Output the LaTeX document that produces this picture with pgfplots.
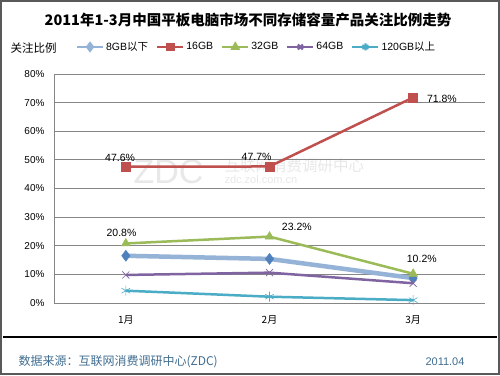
\documentclass[border=0pt]{standalone}
\usepackage{pgfplots}
\pgfplotsset{compat=1.18}
\usepackage{fontspec}
\setmainfont{Liberation Sans}
\newfontfamily\cjk{Noto Sans CJK SC}
\usetikzlibrary{plotmarks}
\definecolor{c1l}{HTML}{95B3D7}
\definecolor{c1}{HTML}{4F81BD}
\definecolor{c2}{HTML}{C0504D}
\definecolor{c3}{HTML}{9BBB59}
\definecolor{c4}{HTML}{8064A2}
\definecolor{c5}{HTML}{4BACC6}
\definecolor{gridc}{HTML}{868686}
\definecolor{foot}{RGB}{65,110,145}
\begin{document}
\begin{tikzpicture}[x=1pt,y=1pt]
\fill[white] (0pt,0pt) rectangle (500pt,375pt);
\draw[line width=2pt, gray!70!black] (1pt,1pt) rectangle (499pt,374pt);
\draw[black, line width=1.5pt] (3,38) -- (497,38);
% watermark
\node[font=\fontsize{34}{34}\selectfont, text=gray!18, anchor=west] at (130pt,203pt) {ZDC};
\node[font=\cjk\fontsize{15.5}{15}\selectfont, text=gray!18, anchor=west] at (221pt,209pt) {互联网消费调研中心};
\node[font=\fontsize{11}{11}\selectfont, text=gray!18, anchor=west] at (221pt,195pt) {zdc.zol.com.cn};
% title
\node[font=\cjk\bfseries\fontsize{14.5}{16}\selectfont] at (248pt,355pt) {2011年1-3月中国平板电脑市场不同存储容量产品关注比例走势};
\node[font=\cjk\fontsize{11.5}{13}\selectfont, anchor=west] at (7pt,327pt) {关注比例};
\begin{axis}[
  at={(54pt,72pt)}, anchor=south west,
  width=431pt, height=229pt, scale only axis,
  xmin=-0.5, xmax=2.5, ymin=0, ymax=80,
  xtick={0,1,2}, xticklabels={1{\cjk 月},2{\cjk 月},3{\cjk 月}},
  ytick={0,10,...,80},
  yticklabel={\pgfmathprintnumber{\tick}\%},
  /pgf/number format/assume math mode=true,
  tick label style={font=\fontsize{10}{12}\selectfont},
  x tick label style={font=\cjk\fontsize{10}{12}\selectfont, yshift=-9pt},
  y tick label style={xshift=-6pt},
  major tick length=0pt,
  axis x line=bottom, axis y line=left,
  axis line style={gridc, -},
  ymajorgrids, grid style={gridc, line width=0.8pt},
  legend style={at={(0.47,1.118)}, anchor=center, draw=none, fill=none,
    font=\fontsize{10.5}{12}\selectfont, legend columns=5,
    /tikz/every even column/.append style={column sep=6pt}},
  legend image code/.code={\draw[line width=2.2pt, mark repeat=2,mark phase=2, mark options={scale=0.7}] plot coordinates {(0pt,0pt) (13pt,0pt) (26pt,0pt)};},
  clip=false,
]
\addplot[c1l, line width=4.5pt, mark=diamond*, mark size=5.5pt, mark options={fill=c1, draw=c1, line width=0.5pt}]
  coordinates {(0,16.5) (1,15.4) (2,8.7)};
\addlegendentry{8GB{\cjk 以下}}
\addplot[c2, line width=2.5pt, mark=square*, mark size=4.5pt, mark options={fill=c2, line width=0.5pt}]
  coordinates {(0,47.6) (1,47.7) (2,71.8)};
\addlegendentry{16GB}
\addplot[c3, line width=2.5pt, mark=triangle*, mark size=5pt, mark options={fill=c3, line width=0.5pt}]
  coordinates {(0,20.8) (1,23.2) (2,10.2)};
\addlegendentry{32GB}
\addplot[c4, line width=2.5pt, mark=x, mark size=5pt, mark options={line width=0.6pt}]
  coordinates {(0,9.8) (1,10.6) (2,6.9)};
\addlegendentry{64GB}
\addplot[c5, line width=2.5pt, mark=asterisk, mark size=5pt, mark options={line width=0.6pt}]
  coordinates {(0,4.3) (1,2.2) (2,1.0)};
\addlegendentry{120GB{\cjk 以上}}
\begin{scope}[every node/.style={font=\fontsize{10.5}{12}\selectfont}]
\node at (axis cs:-0.04,50.8) {47.6\%};
\node at (axis cs:0.91,51.0) {47.7\%};
\node at (axis cs:2.2,71.2) {71.8\%};
\node at (axis cs:-0.03,24.4) {20.8\%};
\node at (axis cs:1.19,26.5) {23.2\%};
\node at (axis cs:2.06,15.4) {10.2\%};
\end{scope}
\end{axis}
\node[anchor=south west, inner sep=0pt, outer sep=0pt] at (3pt,37.4pt) {\color{black}\rule{494pt}{1.3pt}};
\node[font=\cjk\fontsize{12}{14}\selectfont, text=foot, anchor=west] at (15pt,13pt) {数据来源：互联网消费调研中心(ZDC)};
\node[font=\fontsize{11}{12}\selectfont, text=foot, anchor=east] at (468pt,13pt) {2011.04};
\end{tikzpicture}
\end{document}
